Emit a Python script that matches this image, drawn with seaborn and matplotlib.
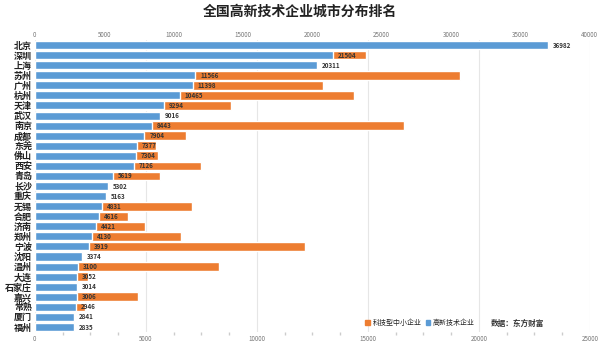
import matplotlib
matplotlib.use('Agg')
import matplotlib.pyplot as plt
import seaborn as sns
import pandas as pd
from matplotlib.patches import Patch
from matplotlib.ticker import MultipleLocator

# city ranking (top to bottom)
cities = ['北京', '深圳', '上海', '苏州', '广州', '杭州', '天津', '武汉', '南京', '成都',
          '东莞', '佛山', '西安', '青岛', '长沙', '重庆', '无锡', '合肥', '济南', '郑州',
          '宁波', '沈阳', '温州', '大连', '石家庄', '嘉兴', '常熟', '厦门', '福州']

# 高新技术企业 (top axis, 0-40000)
high_tech = [36982, 21504, 20311, 11566, 11398, 10465, 9294, 9016, 8443, 7904,
             7377, 7304, 7126, 5619, 5302, 5163, 4831, 4616, 4421, 4130,
             3919, 3374, 3100, 3052, 3014, 3006, 2946, 2841, 2835]

# 科技型中小企业 (bottom axis, 0-25000); 0 where the bar is not visible
small_tech = [0, 14930, 0, 19140, 12990, 14390, 8820, 0, 16650, 6830,
              5480, 5570, 7470, 5650, 0, 0, 7100, 4200, 4980, 6600,
              12170, 2150, 8280, 2400, 0, 4660, 2260, 0, 0]

orange = '#ED7D31'
blue = '#5B9BD5'

df = pd.DataFrame({'city': cities, 'high': high_tech, 'small': small_tech})

sns.set_theme(style='white')
plt.rcParams['font.family'] = ['Noto Sans CJK SC', 'DejaVu Sans']

fig = plt.figure(figsize=(6, 3.51), dpi=100)
ax = fig.add_axes([0.058, 0.054, 0.925, 0.832])

# orange bars on the bottom axis
sns.barplot(data=df, y='city', x='small', color=orange, width=0.86,
            saturation=1, ax=ax, orient='h', zorder=2)
ax.set_xlim(0, 25000)
ax.xaxis.set_major_locator(MultipleLocator(5000))
ax.xaxis.set_minor_locator(MultipleLocator(1250))
ax.grid(axis='x', color='#e6e6e6', linewidth=0.8, zorder=0)
ax.set_axisbelow(True)
ax.tick_params(axis='x', which='major', labelsize=4.5, colors='#777777', length=0, pad=2)
ax.tick_params(axis='x', which='minor', length=2, color='#cccccc', bottom=True)
ax.tick_params(axis='y', labelsize=6.5, length=0, pad=2)
for lbl in ax.get_yticklabels():
    lbl.set_fontweight('bold')
    lbl.set_color('#222222')
ax.set_xlabel('')
ax.set_ylabel('')

# blue bars on the top axis
ax2 = ax.twiny()
sns.barplot(data=df, y='city', x='high', color=blue, width=0.8,
            saturation=1, ax=ax2, orient='h', zorder=3)
ax2.set_xlim(0, 40000)
ax2.xaxis.set_major_locator(MultipleLocator(5000))
ax2.tick_params(axis='x', labelsize=4.5, colors='#777777', length=0, pad=1)
ax2.set_xlabel('')
ax2.set_ylabel('')
ax2.set_ylim(len(cities) - 0.5, -0.5)
ax.set_ylim(len(cities) - 0.5, -0.5)

for i, v in enumerate(high_tech):
    ax2.text(v + 350, i, str(v), va='center', ha='left', fontsize=4.5,
             fontstyle='italic', fontweight='bold', color='#333333', zorder=5)

for a in (ax, ax2):
    for s in a.spines.values():
        s.set_visible(False)

fig.suptitle('全国高新技术企业城市分布排名', x=0.5, y=0.985, fontsize=10, fontweight='bold',
             color='#222222')

handles = [Patch(color=orange, label='科技型中小企业'), Patch(color=blue, label='高新技术企业')]
fig.legend(handles=handles, loc='center', bbox_to_anchor=(0.70, 0.08), ncol=2,
           fontsize=5, frameon=False, handlelength=0.7, handleheight=0.7,
           handletextpad=0.3, columnspacing=0.6)
fig.text(0.862, 0.08, '数据：东方财富', fontsize=5.5, fontweight='bold',
         ha='center', va='center', color='#333333')

fig.savefig('out.png', dpi=100)
